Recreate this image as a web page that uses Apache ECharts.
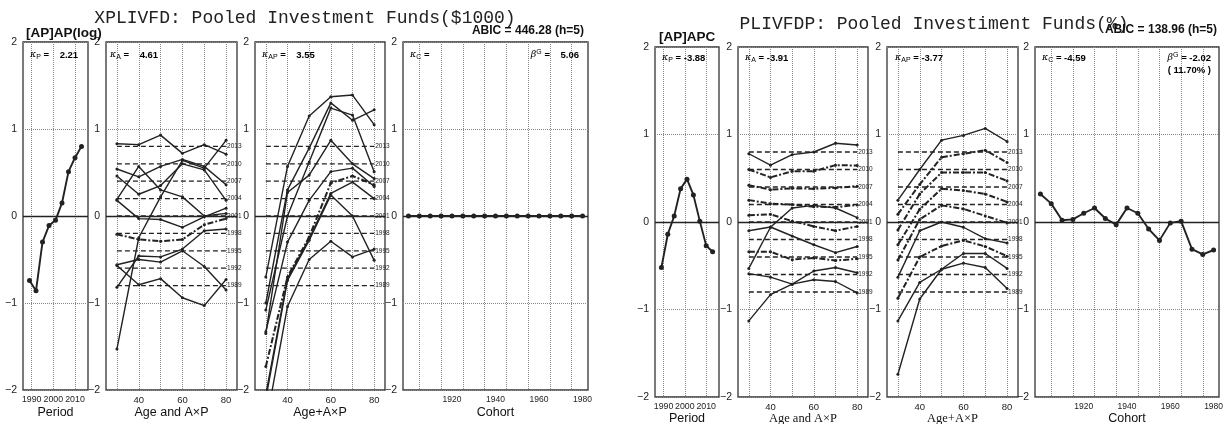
<!DOCTYPE html>
<html>
<head>
<meta charset="utf-8">
<title>Pooled Investment Funds - APC</title>
<script src="https://cdn.jsdelivr.net/npm/echarts@6/dist/echarts.min.js"></script>
<style>
  html, body { margin: 0; padding: 0; background: #fff; }
  #chart { width: 1223px; height: 424px; }
</style>
</head>
<body>
<div id="chart"></div>
<script>
// values
const periods = [1989, 1992, 1995, 1998, 2001, 2004, 2007, 2010, 2013];
const ages = [30, 40, 50, 60, 70, 80];
const cohorts = [1900, 1905, 1910, 1915, 1920, 1925, 1930, 1935, 1940,
  1945, 1950, 1955, 1960, 1965, 1970, 1975, 1980];

const refLevels = [0.8, 0.6, 0.4, 0.2, 0, -0.2, -0.4, -0.6, -0.8];
const refLabels = ['2013', '2010', '2007', '2004', '2001', '1998', '1995', '1992', '1989'];

const periodTicks = [1990, 2000, 2010];
const ageGridTicks = [30, 40, 50, 60, 70, 80];
const ageLabelTicks = [40, 60, 80];
const cohortGridTicks = [1905, 1915, 1925, 1935, 1945, 1955, 1965, 1975];
const cohortLabelTicks = [1920, 1940, 1960, 1980];

// XPLIVFD ($1000), log
const xpPeriod = [-0.74, -0.86, -0.30, -0.11, -0.05, 0.15, 0.51, 0.67, 0.80];
const xpAgeLines = [
  [0.83, 0.82, 0.93, 0.72, 0.82, 0.71],
  [-1.53, -0.25, 0.22, 0.64, 0.55, 0.87],
  [0.54, 0.45, 0.57, 0.65, 0.57, 0.36],
  [0.46, 0.25, 0.35, 0.60, 0.53, 0.18],
  [0.19, 0.57, 0.30, 0.22, 0.00, 0.03],
  [0.18, -0.03, -0.04, -0.13, -0.01, 0.09],
  [-0.82, -0.46, -0.47, -0.38, -0.17, -0.15],
  [-0.56, -0.50, -0.53, -0.40, -0.58, -0.85],
  [-0.57, -0.79, -0.72, -0.94, -1.03, -0.73],
  [-0.21, -0.27, -0.29, -0.27, -0.10, -0.03]
];
const xpAgeDashDot = [false, false, false, false, false, false, false, false, false, true];
const xpApLines = [
  [-0.70, 0.57, 1.15, 1.37, 1.39, 1.05],
  [-1.00, 0.30, 0.78, 1.30, 1.10, 1.22],
  [-1.08, 0.00, 0.62, 1.24, 1.16, 0.51],
  [-1.35, 0.27, 0.47, 0.87, 0.60, 0.43],
  [-1.33, -0.30, 0.18, 0.51, 0.55, 0.34],
  [-1.73, -0.70, -0.24, 0.38, 0.46, 0.36],
  [-2.05, -0.72, -0.26, 0.26, 0.39, 0.20],
  [-2.10, -0.74, -0.28, 0.24, 0.00, -0.51],
  [-2.40, -1.04, -0.50, -0.29, -0.47, -0.38]
];
const xpApDashDot = [false, false, false, false, false, true, false, false, false];
const xpCohort = [0, 0, 0, 0, 0, 0, 0, 0, 0, 0, 0, 0, 0, 0, 0, 0, 0];

// PLIVFDP (%)
const plPeriod = [-0.52, -0.14, 0.07, 0.38, 0.49, 0.31, 0.01, -0.27, -0.34];
const plAgeLines = [
  [0.78, 0.65, 0.77, 0.80, 0.90, 0.88],
  [0.60, 0.51, 0.58, 0.58, 0.65, 0.645],
  [0.42, 0.37, 0.385, 0.38, 0.39, 0.41],
  [0.25, 0.21, 0.20, 0.175, 0.17, 0.195],
  [0.076, 0.088, 0.01, -0.05, -0.10, -0.05],
  [-0.10, -0.057, -0.16, -0.26, -0.35, -0.28],
  [-0.34, -0.34, -0.43, -0.41, -0.44, -0.42],
  [-0.59, -0.63, -0.71, -0.66, -0.68, -0.81],
  [-1.13, -0.83, -0.71, -0.56, -0.52, -0.58],
  [-0.53, -0.06, 0.16, 0.19, 0.16, 0.05]
];
const plAgeDashDot = [false, true, true, true, true, false, true, false, false, false];
const plApLines = [
  [0.25, 0.60, 0.935, 0.99, 1.07, 0.92],
  [0.09, 0.43, 0.74, 0.78, 0.82, 0.68],
  [-0.09, 0.32, 0.565, 0.565, 0.565, 0.47],
  [-0.26, 0.145, 0.38, 0.36, 0.32, 0.23],
  [-0.435, 0.03, 0.19, 0.15, 0.07, -0.01],
  [-0.63, -0.10, 0.00, -0.06, -0.19, -0.24],
  [-0.87, -0.40, -0.275, -0.21, -0.28, -0.39],
  [-1.13, -0.69, -0.54, -0.36, -0.36, -0.53],
  [-1.74, -0.88, -0.54, -0.47, -0.52, -0.76]
];
const plApDashDot = [false, true, true, true, true, false, true, false, false];
const plCohort = [0.32, 0.21, 0.02, 0.03, 0.10, 0.16, 0.04, -0.03, 0.16,
  0.10, -0.08, -0.21, -0.01, 0.01, -0.31, -0.37, -0.32];

const INK = '#222';
const SANS = 'Liberation Sans';

const grids = [];
const xAxes = [];
const yAxes = [];
const series = [];

const zeroLine = {
  silent: true,
  symbol: 'none',
  label: { show: false },
  lineStyle: { color: INK, type: 'solid', width: 1.4 },
  data: [{ yAxis: 0 }]
};

function addPanel(box, xr) {
  const idx = grids.length;
  grids.push({
    left: box[0], top: box[1], width: box[2], height: box[3],
    show: true, borderColor: '#333', borderWidth: 1.3,
    outerBoundsMode: 'none'
  });
  xAxes.push({
    type: 'value', gridIndex: idx, min: xr.min, max: xr.max,
    name: xr.name, nameLocation: 'middle', nameGap: xr.nameGap,
    nameMoveOverlap: false,
    nameTextStyle: { fontSize: 12.5, color: '#111', fontFamily: xr.nameFont || SANS },
    axisLine: { show: false },
    axisTick: { show: false, customValues: xr.grid },
    axisLabel: {
      customValues: xr.labels, fontSize: xr.labelSize || 9.5, color: INK, margin: 5,
      hideOverlap: false, showMinLabel: true, showMaxLabel: true,
      formatter: v => String(v)
    },
    splitLine: { show: true, lineStyle: { color: '#888', type: 'dotted', width: 1 } }
  });
  yAxes.push({
    type: 'value', gridIndex: idx, min: -2, max: 2, interval: 1,
    axisLine: { show: false },
    axisTick: { show: false },
    axisLabel: {
      fontSize: 10.5, color: INK, margin: 6,
      formatter: v => (v < 0 ? '\u2212' + Math.abs(v) : String(v))
    },
    splitLine: { show: true, lineStyle: { color: '#888', type: 'dotted', width: 1 } }
  });
  return idx;
}

function addLine(idx, xs, ys, opt) {
  series.push({
    type: 'line', xAxisIndex: idx, yAxisIndex: idx,
    data: xs.map((x, i) => [x, ys[i]]),
    symbol: 'circle', symbolSize: opt.size,
    showSymbol: opt.size > 0,
    lineStyle: {
      color: INK,
      width: opt.dashDot ? 2 : (opt.width || 1.4),
      type: opt.dashDot ? [6, 2, 2, 2] : 'solid'
    },
    itemStyle: { color: INK },
    silent: true, z: 3,
    markLine: opt.zero ? zeroLine : undefined
  });
}

function addRefs(idx) {
  refLevels.forEach((lvl, i) => {
    series.push({
      type: 'line', xAxisIndex: idx, yAxisIndex: idx,
      name: refLabels[i],
      data: [[ages[0], lvl], [ages[ages.length - 1], lvl]],
      symbol: 'none',
      lineStyle: { color: INK, width: 1.3, type: [5, 3] },
      endLabel: { show: true, formatter: refLabels[i], fontSize: 6.5, color: INK, distance: 1 },
      silent: true, z: 2,
      markLine: i === 0 ? zeroLine : undefined
    });
  });
}

function buildGroup(g) {
  const top = g.top, h = g.height;
  const p = addPanel([g.x[0], top, g.w[0], h],
    { min: 1986, max: 2016, grid: periodTicks, labels: periodTicks, labelSize: 8.8, name: 'Period', nameGap: g.nameGap });
  addLine(p, periods, g.period, { size: 5, width: 1.9, zero: true });

  const a = addPanel([g.x[1], top, g.w[1], h],
    { min: 25, max: 85, grid: ageGridTicks, labels: ageLabelTicks, name: 'Age and A\u00d7P', nameGap: g.nameGap, nameFont: g.ageFont });
  addRefs(a);
  g.ageLines.forEach((ys, i) => addLine(a, ages, ys, { size: 3, dashDot: g.ageDash[i] }));

  const ap = addPanel([g.x[2], top, g.w[2], h],
    { min: 25, max: 85, grid: ageGridTicks, labels: ageLabelTicks, name: 'Age+A\u00d7P', nameGap: g.nameGap, nameFont: g.ageFont });
  addRefs(ap);
  g.apLines.forEach((ys, i) => addLine(ap, ages, ys, { size: 3, dashDot: g.apDash[i] }));

  const c = addPanel([g.x[3], top, g.w[3], h],
    { min: 1897.5, max: 1982.5, grid: cohortGridTicks, labels: cohortLabelTicks, labelSize: 8.5, name: 'Cohort', nameGap: g.nameGap });
  addLine(c, cohorts, g.cohort, { size: 5, width: 1.9, zero: true });
}

buildGroup({
  top: 42, height: 348, nameGap: 16,
  x: [23, 106, 255, 403], w: [65, 131, 130, 185],
  period: xpPeriod, ageLines: xpAgeLines, ageDash: xpAgeDashDot,
  apLines: xpApLines, apDash: xpApDashDot, cohort: xpCohort
});
buildGroup({
  top: 47, height: 350, nameGap: 15, ageFont: 'Liberation Serif',
  x: [655, 738, 887, 1035], w: [64, 130, 131, 184],
  period: plPeriod, ageLines: plAgeLines, ageDash: plAgeDashDot,
  apLines: plApLines, apDash: plApDashDot, cohort: plCohort
});

// kappa / beta captions inside the panels
const capRich = {
  k: { fontFamily: 'DejaVu Serif', fontSize: 9.5, fontStyle: 'italic', color: INK, lineHeight: 12 },
  s: { fontFamily: SANS, fontSize: 7, color: INK, verticalAlign: 'bottom', lineHeight: 12 },
  u: { fontFamily: SANS, fontSize: 7, color: INK, verticalAlign: 'top', lineHeight: 12 },
  t: { fontFamily: SANS, fontSize: 9.5, color: INK, fontWeight: 'bold', lineHeight: 12 }
};
function cap(x, y, text, align) {
  return {
    type: 'text', x: x, y: y, silent: true, z: 10,
    style: { text: text, rich: capRich, align: align || 'left', verticalAlign: 'middle' }
  };
}
function head(x, y, text, opt) {
  return {
    type: 'text', x: x, y: y, silent: true, z: 10,
    style: Object.assign({
      text: text, fill: '#111', verticalAlign: 'middle', align: 'left',
      fontFamily: SANS, fontSize: 12, fontWeight: 'bold'
    }, opt || {})
  };
}

const graphics = [
  head(305, 18, 'XPLIVFD: Pooled Investment Funds($1000)',
    { align: 'center', fontFamily: 'Liberation Mono', fontSize: 18, fontWeight: 'normal', fill: '#222' }),
  head(26, 33, '[AP]AP(log)', { fontSize: 13.5 }),
  head(584, 31, 'ABIC = 446.28 (h=5)', { align: 'right' }),
  cap(30, 55, '{k|\u03ba}{s|P}{t| =    2.21}'),
  cap(110, 55, '{k|\u03ba}{s|A}{t| =    4.61}'),
  cap(262, 55, '{k|\u03ba}{s|AP}{t| =    3.55}'),
  cap(410, 55, '{k|\u03ba}{s|C}{t| =}'),
  cap(579, 55, '{k|\u03b2}{u|G}{t| =    5.06}', 'right'),

  head(934, 24, 'PLIVFDP: Pooled Investiment Funds(%)',
    { align: 'center', fontFamily: 'Liberation Mono', fontSize: 18, fontWeight: 'normal', fill: '#222' }),
  head(659, 37, '[AP]APC', { fontSize: 13.5 }),
  head(1217, 30, 'ABIC = 138.96 (h=5)', { align: 'right' }),
  cap(662, 58, '{k|\u03ba}{s|P}{t| = -3.88}'),
  cap(745, 58, '{k|\u03ba}{s|A}{t| = -3.91}'),
  cap(895, 58, '{k|\u03ba}{s|AP}{t| = -3.77}'),
  cap(1042, 58, '{k|\u03ba}{s|C}{t| = -4.59}'),
  cap(1211, 58, '{k|\u03b2}{u|G}{t| = -2.02}', 'right'),
  cap(1211, 70, '{t|( 11.70% )}', 'right')
];

const chart = echarts.init(document.getElementById('chart'), null, { renderer: 'canvas' });
chart.setOption({
  animation: false,
  backgroundColor: '#fff',
  textStyle: { fontFamily: SANS },
  grid: grids,
  xAxis: xAxes,
  yAxis: yAxes,
  series: series,
  graphic: graphics
});
window.addEventListener('resize', () => chart.resize());
</script>
</body>
</html>
